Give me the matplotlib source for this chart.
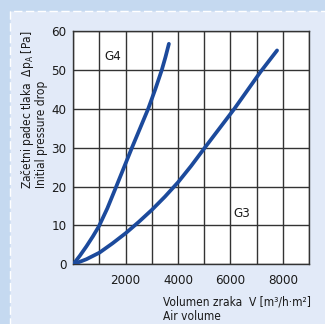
import matplotlib
matplotlib.use("Agg")
import matplotlib.pyplot as plt
from matplotlib.patches import Rectangle
from matplotlib import font_manager
from matplotlib.font_manager import FontProperties

# pick a narrow/condensed font file if one is installed
path = None
files = [f.fname for f in font_manager.fontManager.ttflist]
for key in ['LiberationSansNarrow-Regular', 'DejaVuSansCondensed.ttf', 'Condensed-Regular', 'Narrow']:
    hits = [p for p in files if key in p and 'Bold' not in p and 'Oblique' not in p and 'Italic' not in p]
    if hits:
        path = hits[0]
        break

def fp(size):
    if path:
        return FontProperties(fname=path, size=size)
    return FontProperties(family='DejaVu Sans', size=size * 0.85)

plt.rcParams['mathtext.default'] = 'regular'

# ---- data ----
g4_x = [0, 250, 500, 750, 980, 1300, 1640, 1940, 2240, 2550, 2860, 3130, 3380, 3520, 3650]
g4_y = [0, 2.2, 4.6, 7.2, 9.8, 14.4, 20, 25, 30, 35, 40, 45, 50, 53.3, 56.7]
g3_x = [0, 500, 1000, 1500, 2000, 2500, 3000, 3500, 4000, 4500, 5000, 6150, 7150, 7780]
g3_y = [0, 1.3, 3.0, 5.4, 8.0, 10.9, 14.0, 17.4, 21.1, 25.3, 29.8, 40, 49.5, 55.0]
xticks = [2000, 4000, 6000, 8000]
yticks = [0, 10, 20, 30, 40, 50, 60]
series_labels = ["G4", "G3"]

W, H = 325, 324
fig = plt.figure(figsize=(W / 100, H / 100), dpi=100)
fig.patch.set_facecolor('#c5d9f0')
panel = Rectangle((10 / W, -0.01), 1.02, 1 - 11 / H + 0.01, transform=fig.transFigure,
                  facecolor='#e2eaf8', edgecolor='white', lw=1.0,
                  linestyle=(0, (6, 2.5)), zorder=-5)
fig.patches.append(panel)

ax = fig.add_axes([73.3 / W, 1 - 264.3 / H, (309 - 73.3) / W, (264.3 - 31) / H])
ax.set_zorder(2)
ax.set_facecolor('white')
ax.set_xlim(0, 9000)
ax.set_ylim(0, 60)
ax.set_xticks(range(0, 9001, 1000))
ax.set_yticks(yticks)
ax.grid(True, color='#333333', lw=1.0)
ax.set_axisbelow(True)
ax.set_xticklabels(['' if v not in xticks else str(v) for v in range(0, 9001, 1000)])
ax.set_yticklabels([str(v) for v in yticks])
ax.tick_params(length=0, colors='#1a1a1a')
ax.tick_params(axis='x', pad=7)
ax.tick_params(axis='y', pad=5)
for lab in ax.get_xticklabels() + ax.get_yticklabels():
    lab.set_fontproperties(fp(9.5))
for s in ax.spines.values():
    s.set_color('#333333')
    s.set_linewidth(1.0)

col = '#1c4a9c'
ax.plot(g4_x, g4_y, color=col, lw=2.7, solid_capstyle='round', solid_joinstyle='round', zorder=3)
ax.plot(g3_x, g3_y, color=col, lw=2.7, solid_capstyle='round', solid_joinstyle='round', zorder=3)
ax.text(1490, 53.4, series_labels[0], fontproperties=fp(9.5), ha='center', va='center', color='#1a1a1a')
ax.text(6440, 13.1, series_labels[1], fontproperties=fp(9.5), ha='center', va='center', color='#1a1a1a')

# axis titles
fig.text(162.7 / W, 1 - 305.5 / H, 'Volumen zraka  V [m³/h·m²]', fontproperties=fp(8.6),
         ha='left', va='baseline', color='#1a1a1a')
fig.text(162.7 / W, 1 - 320.5 / H, 'Air volume', fontproperties=fp(8.6),
         ha='left', va='baseline', color='#1a1a1a')
fig.text(27.5 / W, 1 - 189 / H, 'Začetni padec tlaka  Δp$_A$ [Pa]', fontproperties=fp(8.6),
         rotation=90, ha='center', va='bottom', color='#1a1a1a')
fig.text(41 / W, 1 - 188 / H, 'Initial pressure drop', fontproperties=fp(8.6),
         rotation=90, ha='center', va='bottom', color='#1a1a1a')

fig.savefig('out.png', dpi=100, facecolor=fig.get_facecolor())
